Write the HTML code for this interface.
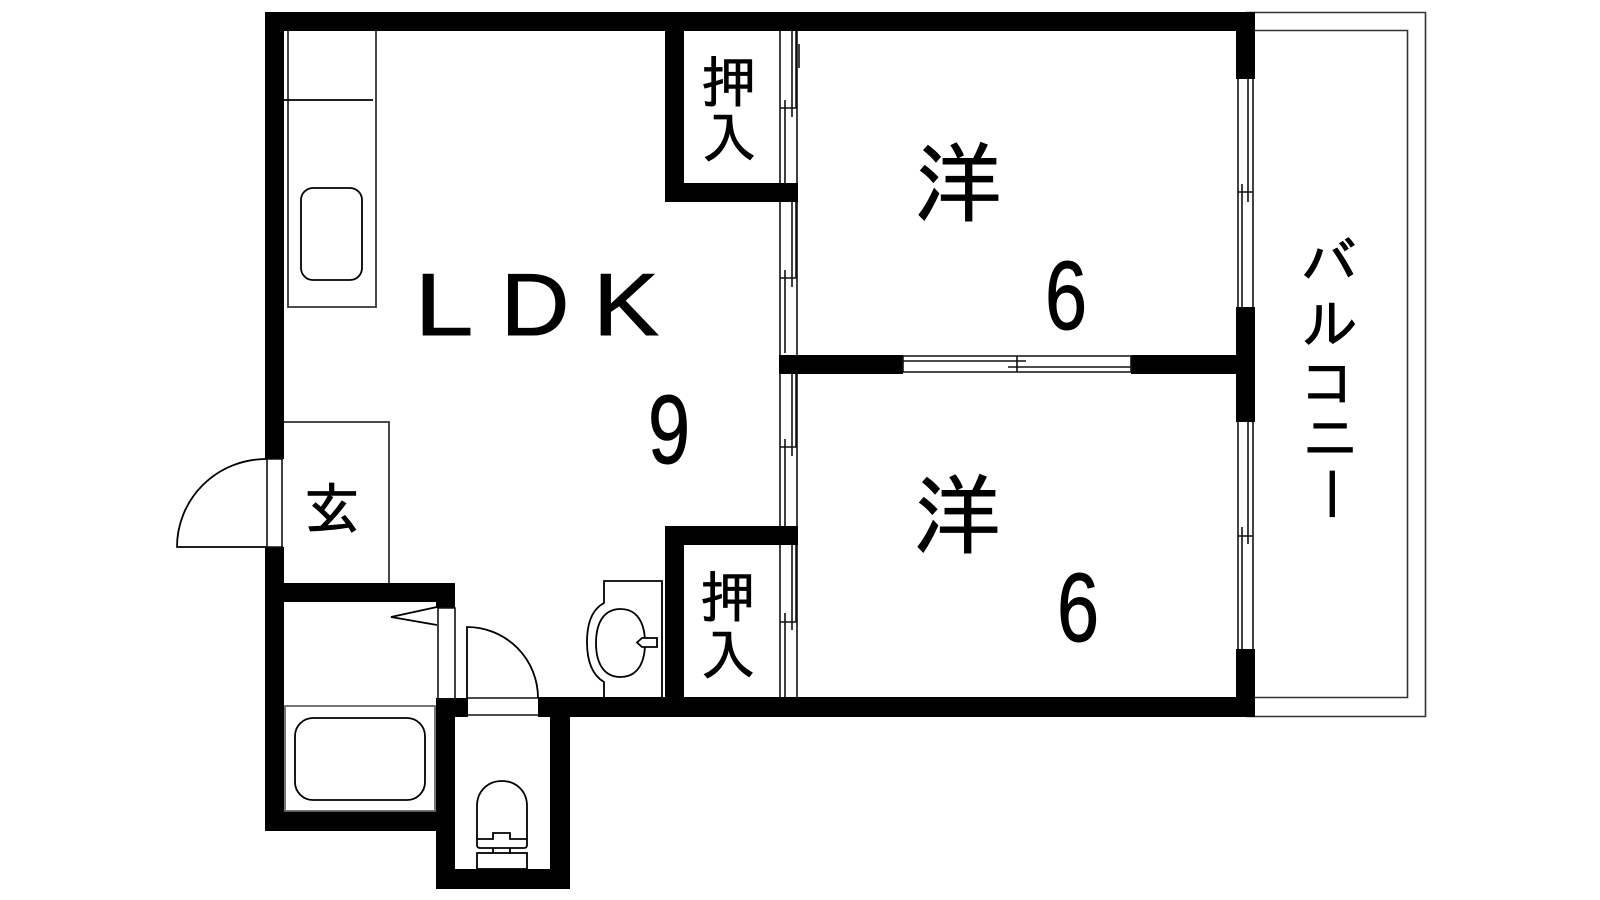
<!DOCTYPE html>
<html lang="ja"><head><meta charset="utf-8"><title>間取り図</title>
<style>html,body{margin:0;padding:0;background:#fff;width:1600px;height:900px;overflow:hidden}svg{display:block}
.j{font-family:"IPAGothic","Noto Sans CJK JP",sans-serif;text-anchor:middle;fill:#000;stroke:#000;stroke-width:.9}
.l{font-family:"Liberation Sans",sans-serif;text-anchor:middle;fill:#000;stroke:#000;stroke-width:1}</style></head><body>
<svg width="1600" height="900" viewBox="0 0 1600 900" xmlns="http://www.w3.org/2000/svg">
<rect width="1600" height="900" fill="#fff"/>
<!-- balcony -->
<g fill="none" stroke="#333" stroke-width="1.6">
<path d="M1246 12.500H1425.500V716.500H1246"/>
<path d="M1255 30.500H1407.500V697.500H1255"/>
</g>
<!-- walls -->
<g fill="#000">
<rect x="265" y="12" width="990" height="19"/>
<rect x="265" y="12" width="19" height="447"/>
<rect x="265" y="547" width="19" height="284"/>
<rect x="265" y="583" width="190" height="19"/>
<rect x="436" y="583" width="19" height="25"/>
<rect x="265" y="811" width="190" height="20"/>
<rect x="436" y="699" width="19" height="190"/>
<rect x="436" y="698" width="32" height="19"/>
<rect x="538" y="697" width="717" height="20"/>
<rect x="550" y="697" width="20" height="192"/>
<rect x="436" y="869" width="134" height="20"/>
<rect x="665" y="12" width="19" height="190"/>
<rect x="665" y="183" width="133" height="19"/>
<rect x="779" y="355" width="124" height="19"/>
<rect x="1131" y="355" width="124" height="19"/>
<rect x="665" y="526" width="133" height="19"/>
<rect x="665" y="526" width="19" height="190"/>
<rect x="1236" y="12" width="19" height="67"/>
<rect x="1236" y="307" width="19" height="115"/>
<rect x="1236" y="649" width="19" height="68"/>
</g>
<!-- windows -->
<g fill="none" stroke="#111" stroke-width="1.6">
<path d="M780 31V183M797 31V183M792 31V117M796 31V108M780 108H797M785 100V183M799 44V68" />
<path d="M780 202V355M797 202V355M792 202V287M796 202V278M780 278H797M785 270V353"/>
<path d="M780 374V526M797 374V526M792 374V456M796 374V447M780 447H797M785 439V526"/>
<path d="M780 545V697M797 545V697M792 545V630M796 545V622M780 622H797M785 613V697"/>
<path d="M1238 79V307M1253 79V307M1248 79V202M1238 192H1253M1242 184V307"/>
<path d="M1238 422V649M1253 422V649M1248 422V544M1238 536H1253M1242 527V649"/>
<path d="M903 356H1131V372H903ZM903 361H1026M1008 367H1131M1017 356V372"/>
<path d="M267 459V547M282 459V547M266 459H283M266 547H283"/>
<path d="M438 608H455V699H438Z"/>
<path d="M468 698H538M468 715H538"/>
</g>
<!-- fixtures -->
<g fill="none" stroke="#000" stroke-width="1.8">
<path d="M288 31V307H376V31" stroke="#333"/>
<path d="M284 100H373"/>
<rect x="301" y="188" width="61" height="92" rx="12"/>
<path d="M284 422H389V583" stroke="#333"/>
<path d="M266 459A89 88 0 0 0 177 547H266"/>
<path d="M437 607L391 617L437 625"/>
<path d="M467 698V627A71 71 0 0 1 538 698"/>
<rect x="285" y="706" width="150" height="105" stroke="#666"/>
<rect x="295" y="718" width="130" height="82" rx="18"/>
<path d="M604 697V682Q587 672 587 642Q587 612 604 603V581H662V697"/>
<path d="M620.500 609C638 609 645 624 645 643C645 662 638 677 620.500 677C603 677 596 662 596 643C596 624 603 609 620.500 609Z"/>
<path d="M657 638H642L637 642.500L642 647H657Z" fill="#fff"/>
<path d="M477 839V806C477 791 488 781 502 781C516 781 527 791 527 806V839"/>
<path d="M477 839V845Q477 848 480 848H524Q527 848 527 845V839H510V833H493V839Z"/>
<path d="M493 848V853M510 848V853"/>
<rect x="477" y="853" width="50" height="16"/>
</g>
<!-- labels -->
<text class="l" transform="translate(444 335) scale(1.2 1)" font-size="88">L</text>
<text class="l" transform="translate(535 335) scale(1.08 1)" font-size="88">D</text>
<text class="l" transform="translate(626 335) scale(1.12 1)" font-size="88">K</text>
<text class="l" transform="translate(669 463) scale(.78 1)" font-size="97">9</text>
<text class="l" transform="translate(1066 329) scale(.78 1)" font-size="97">6</text>
<text class="l" transform="translate(1078 641) scale(.78 1)" font-size="97">6</text>
<text class="j" x="958" y="215" font-size="88">洋</text>
<text class="j" x="957" y="547" font-size="88">洋</text>
<text class="j" x="729" y="102" font-size="55">押</text>
<text class="j" x="729" y="158" font-size="55">入</text>
<text class="j" x="728" y="617" font-size="55">押</text>
<text class="j" x="728" y="675" font-size="55">入</text>
<text class="j" x="332" y="529" font-size="56">玄</text>
<text class="j" x="1329" y="283" font-size="56">バ</text>
<text class="j" x="1330" y="344" font-size="56">ル</text>
<text class="j" x="1328" y="403" font-size="56">コ</text>
<text class="j" x="1330" y="458" font-size="56">ニ</text>
<text class="j" font-size="56" transform="translate(1330 494) rotate(90) translate(0 19)">ー</text>
</svg>
</body></html>
